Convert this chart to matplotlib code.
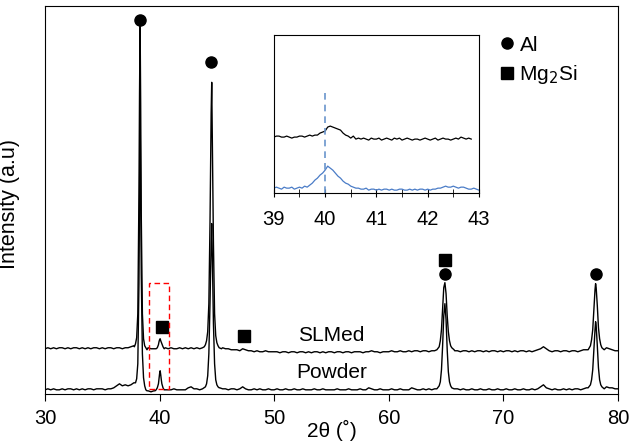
import matplotlib
matplotlib.use('Agg')
import matplotlib.pyplot as plt
import numpy as np
from matplotlib.patches import Rectangle
from matplotlib.lines import Line2D

plt.rcParams['font.family'] = ['Liberation Sans', 'DejaVu Sans']

# --- main pattern: background readings every 0.25 deg ---
bg_x = np.arange(30, 80.001, 0.25)
powder_bg = [
    4, 5, 4, 5, 4, 4, 5, 4, 5, 5, 4, 5, 4, 5, 4, 5, 5, 4, 5, 5,
    5, 4, 5, 5, 6, 8, 10, 8, 9, 8, 9, 11, 12, 8, 5, 3, 3, 2, 3, 4,
    4, 4, 4, 4, 4, 5, 4, 4, 4, 4, 6, 7, 5, 5, 4, 5, 5, 4, 6, 6,
    7, 6, 5, 5, 4, 5, 5, 4, 5, 7, 5, 4, 4, 5, 4, 5, 4, 4, 5, 4,
    4, 5, 4, 4, 5, 4, 4, 5, 4, 4, 5, 4, 4, 4, 5, 4, 4, 5, 4, 4,
    4, 4, 5, 4, 4, 4, 5, 4, 4, 4, 5, 4, 4, 6, 5, 4, 4, 5, 4, 4,
    4, 5, 4, 4, 5, 4, 4, 4, 6, 5, 4, 4, 5, 4, 5, 4, 5, 6, 7, 9,
    10, 7, 6, 5, 5, 4, 5, 4, 4, 5, 4, 4, 5, 4, 4, 5, 4, 4, 5, 4,
    4, 5, 4, 4, 5, 4, 4, 5, 4, 4, 5, 4, 5, 7, 9, 6, 5, 4, 5, 4,
    4, 5, 4, 5, 4, 5, 5, 4, 5, 6, 7, 8, 9, 10, 12, 10, 7, 6, 6, 5,
    5]
slmed_bg = [
    45, 46, 45, 46, 45, 46, 46, 45, 46, 45, 46, 46, 45, 46, 45, 46, 45, 46, 46, 45,
    46, 45, 46, 46, 45, 46, 46, 45, 46, 46, 47, 48, 50, 50, 46, 44, 46, 45, 45, 46,
    46, 47, 46, 45, 46, 45, 45, 46, 45, 46, 45, 46, 45, 46, 45, 46, 47, 48, 50, 55,
    50, 47, 46, 45, 45, 44, 44, 44, 43, 45, 44, 43, 43, 42, 43, 42, 42, 43, 42, 42,
    42, 42, 41, 42, 42, 41, 42, 42, 41, 42, 42, 41, 42, 41, 42, 42, 41, 42, 41, 42,
    42, 41, 42, 42, 41, 42, 42, 41, 42, 42, 42, 41, 42, 42, 43, 42, 42, 41, 42, 42,
    42, 43, 42, 42, 43, 42, 42, 43, 42, 43, 43, 42, 43, 43, 42, 43, 43, 44, 45, 47,
    48, 46, 44, 43, 43, 42, 43, 43, 42, 43, 42, 43, 43, 42, 43, 42, 43, 43, 42, 43,
    42, 43, 43, 42, 43, 42, 43, 43, 42, 43, 42, 43, 44, 45, 47, 45, 43, 42, 43, 43,
    42, 43, 43, 42, 43, 43, 42, 43, 44, 44, 45, 46, 47, 48, 50, 48, 46, 45, 44, 43,
    43]

# --- peak profiles (2theta, intensity) ---
powder_peaks = [
    ([37.9, 38.0, 38.1, 38.2, 38.25, 38.3, 38.35, 38.4, 38.5, 38.6, 38.7, 38.8, 38.9],
     [11, 15, 30, 110, 200, 285, 210, 120, 40, 16, 8, 4, 3]),
    ([39.6, 39.7, 39.8, 39.9, 39.95, 40.0, 40.05, 40.1, 40.15, 40.2, 40.3, 40.4, 40.5],
     [3, 4, 6, 10, 15, 20, 23, 19, 14, 10, 6, 4, 4]),
    ([44.0, 44.1, 44.2, 44.3, 44.4, 44.5, 44.55, 44.6, 44.7, 44.8, 44.9, 45.0, 45.1, 45.2],
     [7, 10, 18, 40, 90, 150, 170, 140, 70, 30, 14, 9, 7, 6]),
    ([64.2, 64.4, 64.5, 64.6, 64.7, 64.8, 64.9, 65.0, 65.1, 65.2, 65.3, 65.4, 65.5, 65.7],
     [5, 8, 12, 24, 48, 78, 90, 74, 44, 22, 12, 8, 6, 5]),
    ([77.4, 77.6, 77.7, 77.8, 77.9, 78.0, 78.05, 78.1, 78.2, 78.3, 78.4, 78.5, 78.6, 78.8],
     [6, 9, 14, 24, 44, 64, 72, 68, 48, 26, 14, 9, 7, 5]),
]
slmed_peaks = [
    ([37.8, 37.9, 38.0, 38.1, 38.2, 38.25, 38.3, 38.35, 38.4, 38.5, 38.6, 38.7, 38.8, 38.9],
     [47, 50, 56, 80, 200, 300, 370, 290, 180, 80, 55, 48, 46, 44]),
    ([39.7, 39.8, 39.9, 39.95, 40.0, 40.05, 40.1, 40.2, 40.3, 40.4],
     [45, 46, 49, 52, 54, 55, 53, 50, 47, 45]),
    ([43.9, 44.0, 44.1, 44.2, 44.3, 44.4, 44.5, 44.55, 44.6, 44.7, 44.8, 44.9, 45.0, 45.1, 45.2, 45.4],
     [47, 49, 53, 62, 90, 170, 280, 311, 260, 150, 80, 58, 51, 48, 46, 45]),
    ([64.2, 64.4, 64.5, 64.6, 64.7, 64.8, 64.9, 65.0, 65.1, 65.2, 65.3, 65.4, 65.5, 65.7],
     [44, 47, 53, 64, 85, 106, 111, 100, 78, 62, 53, 48, 46, 44]),
    ([77.4, 77.6, 77.7, 77.8, 77.9, 78.0, 78.05, 78.1, 78.2, 78.3, 78.4, 78.5, 78.6, 78.8],
     [44, 48, 54, 64, 84, 104, 110, 106, 88, 66, 55, 49, 46, 44]),
]

# --- inset (39-43 deg), own intensity scale ---
inset_slmed_x = np.arange(39, 42.851, 0.05)
inset_slmed_y = [
    56, 57, 57, 56, 56, 57, 56, 55, 56, 56,
    57, 57, 56, 57, 58, 57, 58, 58, 60, 61,
    62, 66, 67, 66, 65, 64, 63, 60, 58, 57,
    55, 57, 54, 55, 54, 55, 54, 53, 55, 54,
    54, 55, 53, 54, 55, 54, 53, 55, 54, 55,
    53, 54, 55, 54, 53, 54, 54, 53, 54, 55,
    54, 53, 54, 55, 53, 54, 55, 54, 54, 53,
    54, 55, 54, 56, 55, 54, 55, 54]
inset_powder_x = np.arange(39, 43.001, 0.05)
inset_powder_y = [
    5, 6, 5, 4, 6, 5, 5, 6, 4, 5,
    6, 5, 7, 6, 8, 10, 13, 15, 18, 20,
    23, 27, 25, 23, 20, 17, 15, 12, 10, 9,
    7, 6, 5, 5, 4, 4, 5, 3, 4, 4,
    3, 4, 3, 4, 4, 3, 4, 3, 3, 4,
    4, 3, 3, 4, 3, 4, 3, 4, 4, 3,
    4, 3, 4, 4, 5, 5, 6, 7, 6, 6,
    7, 6, 5, 6, 6, 5, 4, 4, 5, 4,
    3]

# phase markers
al_x = [38.3, 44.5, 64.9, 78.05]
al_y = [373, 331, 120, 120]
mg2si_x = [40.2, 47.4, 64.9]
mg2si_y = [67, 58, 134]


def build_curve(bg, peaks):
    bg = np.asarray(bg, float)
    keep = np.ones(len(bg_x), bool)
    xs, ys = [], []
    for px, py in peaks:
        keep &= ~((bg_x >= px[0]) & (bg_x <= px[-1]))
        xs.extend(px)
        ys.extend(py)
    x = np.concatenate([bg_x[keep], xs])
    y = np.concatenate([bg[keep], ys])
    order = np.argsort(x)
    return x[order], y[order]


px, py = build_curve(powder_bg, powder_peaks)
sx, sy = build_curve(slmed_bg, slmed_peaks)

fig = plt.figure(figsize=(6.31, 4.43), dpi=100)
ax = fig.add_axes([0.0713, 0.111, 0.908, 0.875])

ax.plot(px, py, color='black', lw=1.0)
ax.plot(sx, sy, color='black', lw=1.0)

ax.plot(al_x, al_y, 'o', color='black', ms=8, ls='none')
ax.plot(mg2si_x, mg2si_y, 's', color='black', ms=8.5, ls='none')

ax.text(55.0, 58, 'SLMed', fontsize=15, ha='center', va='center')
ax.text(55.0, 21, 'Powder', fontsize=15, ha='center', va='center')

ax.add_patch(Rectangle((39.1, 5), 1.75, 106, fill=False, ec='red',
                       ls=(0, (4, 2.5)), lw=1.0, zorder=3))

ax.set_xlim(30, 80)
ax.set_ylim(0, 387)
ax.set_xticks([30, 40, 50, 60, 70, 80])
ax.set_yticks([])
ax.tick_params(axis='x', direction='out', length=5, labelsize=14.5, pad=6)
for s in ax.spines.values():
    s.set_linewidth(0.8)
ax.set_xlabel('2θ (˚)', fontsize=15)
ax.xaxis.set_label_coords(0.5, -0.068)
ax.set_ylabel('Intensity (a.u)', fontsize=15.5)
ax.yaxis.set_label_coords(-0.044, 0.49)

handles = [Line2D([], [], marker='o', color='black', ls='none', ms=8),
           Line2D([], [], marker='s', color='black', ls='none', ms=8.5)]
ax.legend(handles, ['Al', 'Mg$_2$Si'], loc='upper left',
          bbox_to_anchor=(0.77, 0.962), frameon=False, fontsize=15,
          handlelength=0.6, handletextpad=0.3, labelspacing=0.42,
          borderaxespad=0.3)

# inset
axi = fig.add_axes([0.434, 0.564, 0.325, 0.357])
axi.plot(inset_slmed_x, inset_slmed_y, color='black', lw=0.9)
axi.plot(inset_powder_x, inset_powder_y, color='#4a7cc7', lw=0.9)
axi.vlines(40, 0, 103, colors='#6a95cc', linestyles=(0, (4, 3)), lw=1.2)
axi.set_xlim(39, 43)
axi.set_ylim(0, 158)
axi.set_yticks([])
axi.set_xticks([39, 40, 41, 42, 43])
axi.set_xticks(np.arange(39.5, 43, 1), minor=True)
axi.tick_params(axis='x', which='both', direction='inout', length=6,
                labelsize=14.5, pad=9)
for s in axi.spines.values():
    s.set_linewidth(0.8)

fig.savefig('out.png', dpi=100, facecolor='white')
